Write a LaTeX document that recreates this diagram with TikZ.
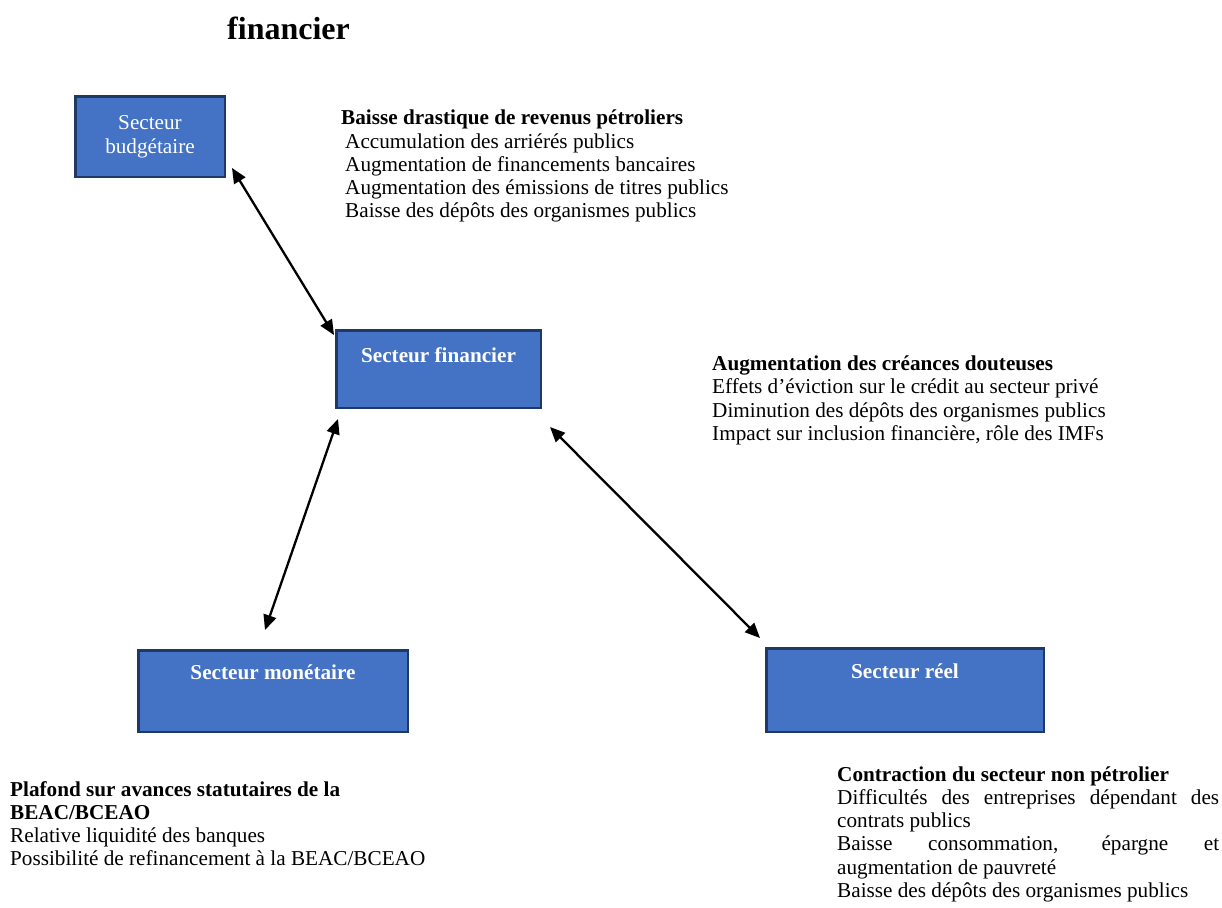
\documentclass[tikz,border=0pt]{standalone}
\usepackage{fontspec}
\setmainfont{Liberation Serif}
\usetikzlibrary{arrows.meta}
\definecolor{boxfill}{RGB}{68,114,196}
\definecolor{boxline}{RGB}{31,56,100}
\newcommand{\fsbody}{\fontsize{21.2}{23}\selectfont}
\begin{document}
\begin{tikzpicture}[x=1pt,y=1pt,
  sector/.style={draw=boxline, fill=boxfill, line width=2.5pt, inner xsep=0pt, inner ysep=0pt,
    text=white, font=\fsbody\bfseries},
  txt/.style={anchor=base west, inner sep=0pt, font=\fsbody},
  hd/.style={txt, font=\fsbody\bfseries},
  conn/.style={line width=2.3pt, {Triangle[length=15pt,width=13pt]}-{Triangle[length=15pt,width=13pt]}}
]
\useasboundingbox (0,0) rectangle (1222,-907);

% title
\node[anchor=base west, inner sep=0pt, font=\fontsize{32}{36}\selectfont\bfseries] (title) at (227,-39.5) {financier};

% boxes
\node[sector, font=\fontsize{21.2}{24}\selectfont, align=center, minimum width=149.5pt, minimum height=80.5pt] (bud) at (150,-136.5) {Secteur\\budgétaire};
\node[sector, minimum width=204.5pt, text height=31.75pt, text depth=45.75pt] (fin) at (438.5,-369) {Secteur financier};
\node[sector, minimum width=269.5pt, text height=29.25pt, text depth=52.25pt] (mon) at (273,-691) {Secteur monétaire};
\node[sector, minimum width=277.5pt, text height=30.25pt, text depth=53.25pt] (reel) at (905,-690) {Secteur réel};

% connector end points
\coordinate (budA) at (232,-168);
\coordinate (finA) at (334,-335);
\coordinate (finB) at (338,-419);
\coordinate (monA) at (265,-630);
\coordinate (finC) at (550,-427);
\coordinate (reelA) at (760,-638);

\draw[conn] (budA) -- (finA);
\draw[conn] (finB) -- (monA);
\draw[conn] (finC) -- (reelA);

% block 1
\node[hd] (b1h) at (341,-124.5) {Baisse drastique de revenus pétroliers};
\node[txt] (b1a) at (345,-148) {Accumulation des arriérés publics};
\node[txt] (b1b) at (345,-171.3) {Augmentation de financements bancaires};
\node[txt] (b1c) at (345,-194.6) {Augmentation des émissions de titres publics};
\node[txt] (b1d) at (345,-217.9) {Baisse des dépôts des organismes publics};

% block 2
\node[hd] (b2h) at (712,-370.5) {Augmentation des créances douteuses};
\node[txt] (b2a) at (712,-393.8) {Effets d’éviction sur le crédit au secteur privé};
\node[txt] (b2b) at (712,-417.1) {Diminution des dépôts des organismes publics};
\node[txt] (b2c) at (712,-440.4) {Impact sur inclusion financière, rôle des IMFs};

% block 3
\node[hd] (b3h) at (10,-796) {Plafond sur avances statutaires de la};
\node[hd] (b3i) at (10,-819.3) {BEAC/BCEAO};
\node[txt] (b3a) at (10,-842.6) {Relative liquidité des banques};
\node[txt] (b3b) at (10,-865.9) {Possibilité de refinancement à la BEAC/BCEAO};

% block 4
\node[hd] (b4h) at (837,-781) {Contraction du secteur non pétrolier};
\node[txt] (b4a) at (837,-804.3) {\makebox[382pt][s]{Difficultés des entreprises dépendant des}};
\node[txt] (b4b) at (837,-827.6) {contrats publics};
\node[txt] (b4c) at (837,-850.9) {\makebox[382pt][s]{Baisse consommation, épargne et}};
\node[txt] (b4d) at (837,-874.2) {augmentation de pauvreté};
\node[txt] (b4e) at (837,-897.5) {Baisse des dépôts des organismes publics};
\end{tikzpicture}
\end{document}
